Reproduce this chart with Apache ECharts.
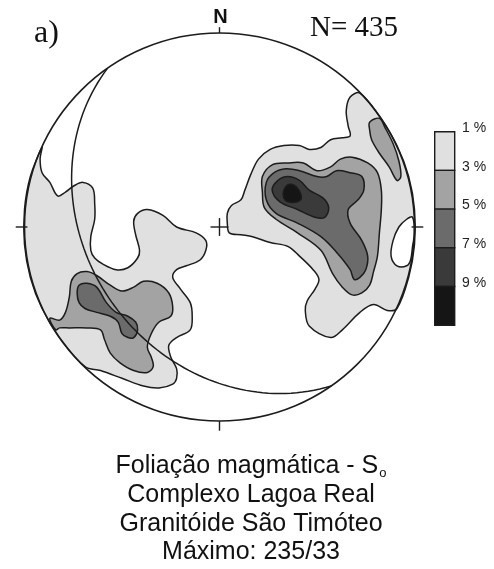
<!DOCTYPE html>
<html>
<head>
<meta charset="utf-8">
<script src="https://cdn.jsdelivr.net/npm/echarts@6/dist/echarts.min.js"></script>
<style>
  html, body { margin: 0; padding: 0; background: #ffffff; }
  #chart { width: 494px; height: 569px; }
</style>
</head>
<body>
<div id="chart"></div>
<script>
// Density levels of the pole contours (percent per 1% area) and their fills
const levelLabels = ['1 %', '3 %', '5 %', '7 %', '9 %'];
const levelColors = ['#e0e0e0', '#a3a3a3', '#6b6b6b', '#3a3a3a', '#151515'];
const sampleCount = 435;
// Maximum plane: dip direction / dip
const maxPlane = [235, 33];

// Contour outlines in projected net coordinates (primitive radius = 100)
const c1East = [
  [72,69],[67,67],[65,60],[66,52],[67,47],[63,46],[57,45],[52,41],[46,40],[41,42],
  [33,42],[26,40],[20,35],[16,27],[13,19],[11,14],[6,11],[4,7],[4,2],[5,-3],
  [11,-4],[17,-5],[26,-8],[35,-10],[41,-15],[48,-22],[51,-27],[49,-32],[45,-38],
  [44,-43],[46,-51],[57,-57],[63,-53],[72,-44],[79,-40],[86,-43],[91,-42],
  [97,-26],[100,-9],[100,9],[97,26],[91,42],[82,57]
];
const gapEast = [
  [99,5],[96,4],[92,0],[89,-7],[88,-15],[91,-20],[96,-20],[98,-17],[99,-10],[100,-3]
];
const c1West = [
  [-91,41],[-92,35],[-91,28],[-87,23],[-83,16],[-79,18],[-75,21],[-70,23],[-65,20],
  [-64,12],[-64,4],[-66,-5],[-66,-12],[-64,-16],[-60,-19],[-53,-22],[-47,-21],
  [-42,-16],[-41,-12],[-43,-4],[-44,3],[-42,7],[-37,9],[-29,6],[-22,0],[-12,-3],
  [-7,-7],[-7,-12],[-10,-17],[-17,-20],[-22,-22],[-24,-26],[-20,-32],[-15,-39],
  [-14,-46],[-15,-53],[-22,-57],[-26,-61],[-25,-67],[-22,-73],[-22,-78],[-24,-81],
  [-31,-83],[-39,-82],[-50,-78],[-61,-74],[-69,-72],
  [-82,-57],[-91,-42],[-97,-26],[-100,-9],[-100,9],[-97,26]
];
const c3EastRim = [
  [77,54],[82,56],[85,51],[89,43],[92,34],[93,26],[91,24],[87,31],[82,38],[78,45],[77,50]
];
const c3East = [
  [22,26],[27,32],[35,33],[43,33],[50,29],[57,31],[62,35],[68,36],[76,33],[81,28],
  [83,19],[83,9],[82,-3],[81,-15],[79,-23],[77,-30],[73,-34],[68,-35],[63,-31],
  [58,-24],[52,-12],[40,-3],[29,4],[23,10],[22,18]
];
const c3West = [
  [-87,-47],[-82,-48],[-79,-44],[-77,-36],[-76,-28],[-73,-24],[-68,-23],[-63,-25],
  [-56,-30],[-50,-33],[-44,-31],[-39,-28],[-32,-29],[-26,-34],[-24,-41],[-25,-46],
  [-31,-49],[-35,-55],[-37,-62],[-35,-67],[-34,-72],[-37,-75],[-44,-74],[-51,-70],
  [-56,-65],[-59,-58],[-61,-53],[-68,-52],[-77,-52],[-82,-52],[-84,-53]
];
const c5East = [
  [24,23],[28,28],[34,30],[41,29],[50,26],[55,26],[60,29],[67,28],[73,26],[74,19],
  [71,14],[66,9],[67,2],[73,-7],[76,-15],[75,-22],[72,-26],[69,-27],[67,-22],
  [60,-13],[52,-5],[40,2],[29,7],[24,14]
];
const c5West = [
  [-73,-34],[-72,-30],[-68,-29],[-63,-31],[-58,-39],[-53,-44],[-47,-46],[-43,-49],
  [-42,-53],[-44,-57],[-47,-57],[-50,-55],[-52,-49],[-56,-46],[-63,-44],[-69,-42],[-72,-39]
];
const c7East = [
  [27,19],[30,24],[35,26],[41,24],[46,19],[53,15],[56,10],[54,5],[49,5],[40,9],[31,13]
];
const c9East = [
  [33,19],[36,22],[40,20],[42,15],[40,13],[35,13],[33,15]
];

const INK = '#1c1c1c';

// Lower-hemisphere equal-area (Schmidt) trace of a plane
function planeTrace(dipDir, dip) {
  const r = Math.PI / 180;
  const strike = (dipDir - 90) * r, dd = dipDir * r, d = dip * r;
  const s = [Math.sin(strike), Math.cos(strike), 0];
  const v = [Math.sin(dd) * Math.cos(d), Math.cos(dd) * Math.cos(d), Math.sin(d)];
  const pts = [];
  for (let t = 0; t <= 180; t += 2) {
    const a = t * r;
    const e = Math.cos(a) * s[0] + Math.sin(a) * v[0];
    const n = Math.cos(a) * s[1] + Math.sin(a) * v[1];
    const z = Math.cos(a) * s[2] + Math.sin(a) * v[2];
    const plunge = Math.asin(Math.min(1, Math.max(-1, z)));
    const trend = Math.atan2(e, n);
    const rad = 100 * Math.SQRT2 * Math.sin((Math.PI / 2 - plunge) / 2);
    pts.push([rad * Math.sin(trend), rad * Math.cos(trend)]);
  }
  return pts;
}

function areaSeries(points, fill, z) {
  return {
    type: 'custom', coordinateSystem: 'cartesian2d', z: z, silent: true, clip: false,
    data: [[0, 0]],
    renderItem: function (params, api) {
      return {
        type: 'polygon',
        shape: { points: points.map(p => api.coord(p)), smooth: 0.35 },
        style: { fill: fill, stroke: INK, lineWidth: 1.5 }
      };
    }
  };
}

const planePts = planeTrace(maxPlane[0], maxPlane[1]);

const series = [
  areaSeries(c1East, levelColors[0], 2),
  areaSeries(c1West, levelColors[0], 2),
  areaSeries(gapEast, '#ffffff', 3),
  areaSeries(c3EastRim, levelColors[1], 4),
  areaSeries(c3East, levelColors[1], 4),
  areaSeries(c3West, levelColors[1], 4),
  areaSeries(c5East, levelColors[2], 5),
  areaSeries(c5West, levelColors[2], 5),
  areaSeries(c7East, levelColors[3], 6),
  areaSeries(c9East, levelColors[4], 7),
  {
    // great circle of the maximum plane
    type: 'custom', coordinateSystem: 'cartesian2d', z: 10, silent: true, clip: false,
    data: [[0, 0]],
    renderItem: function (params, api) {
      return {
        type: 'polyline',
        shape: { points: planePts.map(p => api.coord(p)) },
        style: { fill: null, stroke: INK, lineWidth: 1.5 }
      };
    }
  },
  {
    // primitive circle, cardinal ticks and centre cross
    type: 'custom', coordinateSystem: 'cartesian2d', z: 11, silent: true, clip: false,
    data: [[0, 0]],
    renderItem: function (params, api) {
      const c = api.coord([0, 0]);
      const sz = api.size([100, 100]);
      const ln = (a, b) => ({
        type: 'line',
        shape: { x1: api.coord(a)[0], y1: api.coord(a)[1], x2: api.coord(b)[0], y2: api.coord(b)[1] },
        style: { stroke: INK, lineWidth: 1.4 }
      });
      return {
        type: 'group',
        children: [
          { type: 'ellipse', shape: { cx: c[0], cy: c[1], rx: sz[0], ry: sz[1] },
            style: { fill: null, stroke: INK, lineWidth: 1.6 } },
          ln([0, 100], [0, 103]),
          ln([-104.5, 0], [-98.5, 0]),
          ln([98.5, 0], [104.5, 0]),
          ln([0, -100], [0, -105]),
          ln([-4.6, 0], [4.6, 0]),
          ln([0, -4.6], [0, 4.6])
        ]
      };
    }
  }
];

// colour scale boxes and their labels
const legendTop = 131, legendStep = 38.7;
const legendGraphics = [];
levelColors.forEach((col, i) => {
  legendGraphics.push({
    type: 'rect', left: 434, top: legendTop + i * legendStep,
    shape: { width: 20, height: legendStep },
    style: { fill: col, stroke: INK, lineWidth: 1.4 }
  });
  legendGraphics.push({
    type: 'text', x: 462, y: legendTop + i * legendStep - 3,
    style: { text: levelLabels[i], font: '14px "Liberation Sans", Arial, sans-serif',
      fill: '#222', textVerticalAlign: 'middle' }
  });
});

const titleFont = '25px "Liberation Sans", Arial, sans-serif';
const serifFont = '"Liberation Serif", "Times New Roman", serif';
const textGraphics = [
  { type: 'text', x: 220.5, y: 17.5,
    style: { text: 'N', font: 'bold 20px "Liberation Sans", Arial, sans-serif', fill: '#111',
      textAlign: 'center', textVerticalAlign: 'middle' } },
  { type: 'text', x: 34, y: 34,
    style: { text: 'a)', font: '32px ' + serifFont, fill: '#111',
      textVerticalAlign: 'middle' } },
  { type: 'text', x: 310, y: 28.5,
    style: { text: 'N= ' + sampleCount, font: '29px ' + serifFont, fill: '#111',
      textVerticalAlign: 'middle' } },
  { type: 'text', x: 251, y: 466.5,
    style: { text: 'Foliação magmática - S{sub|o}', font: titleFont, fill: '#111',
      textAlign: 'center', textVerticalAlign: 'middle',
      rich: { sub: { fontSize: 13, fontFamily: '"Liberation Sans", Arial, sans-serif', fill: '#111', padding: [14, 0, 0, 1] } } } },
  { type: 'text', x: 251, y: 495,
    style: { text: 'Complexo Lagoa Real', font: titleFont, fill: '#111',
      textAlign: 'center', textVerticalAlign: 'middle' } },
  { type: 'text', x: 251, y: 524,
    style: { text: 'Granitóide São Timóteo', font: titleFont, fill: '#111',
      textAlign: 'center', textVerticalAlign: 'middle' } },
  { type: 'text', x: 251, y: 552.5,
    style: { text: 'Máximo: ' + maxPlane[0] + '/' + maxPlane[1], font: titleFont, fill: '#111',
      textAlign: 'center', textVerticalAlign: 'middle' } }
];

const chart = echarts.init(document.getElementById('chart'), null, { renderer: 'canvas' });
chart.setOption({
  animation: false,
  backgroundColor: '#ffffff',
  grid: { left: 24.5, top: 33, width: 390, height: 388, containLabel: false },
  xAxis: { type: 'value', min: -100, max: 100, show: false },
  yAxis: { type: 'value', min: -100, max: 100, show: false },
  graphic: legendGraphics.concat(textGraphics),
  series: series
});
</script>
</body>
</html>
